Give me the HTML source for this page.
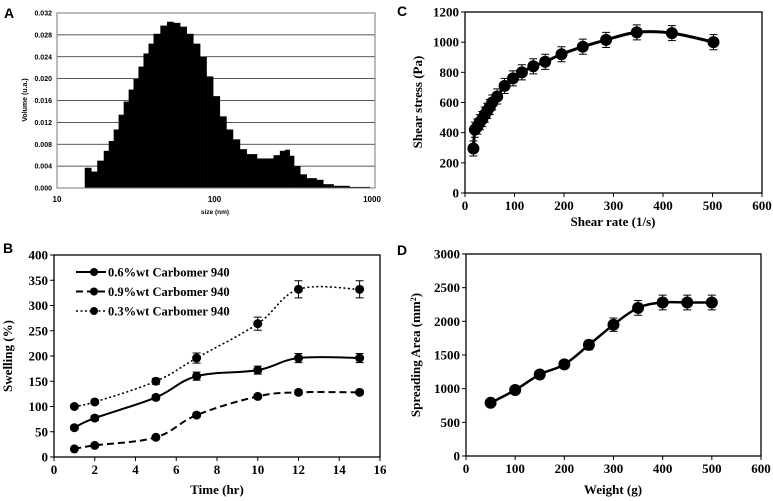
<!DOCTYPE html>
<html><head><meta charset="utf-8"><style>
body{margin:0;background:#fff}
svg{display:block}
.s{font-family:"Liberation Sans",sans-serif;font-weight:bold}
.r{font-family:"Liberation Serif",serif;font-weight:bold}
</style></head><body>
<svg id="fig" width="773" height="501" viewBox="0 0 773 501" xmlns="http://www.w3.org/2000/svg"></svg>
<script>
// Panel A data (particle size distribution)
const aSizes=[15,16.5,18,19.8,21.3,22.9,24.6,26.5,28.5,30.6,32.9,35.4,38.1,41,45.3,49.9,54.9,60.5,66.6,73.3,81,89,98,108,119,131,145,160,186,215,237,260,280,300,320,350,385,445,490,570,720,970];
const aValues=[0.0037,0.003,0.005,0.0068,0.0086,0.0107,0.0134,0.0158,0.018,0.020,0.0222,0.0246,0.0264,0.0282,0.0297,0.0304,0.0302,0.0295,0.0282,0.0264,0.024,0.0204,0.0168,0.0131,0.0107,0.0089,0.0071,0.0062,0.0054,0.0054,0.006,0.0068,0.007,0.0059,0.004,0.0025,0.0018,0.0015,0.0007,0.0004,0.0002,0];
const aYTicks=["0.000","0.004","0.008","0.012","0.016","0.020","0.024","0.028","0.032"];
const aXTicks=["10","100","1000"];
// Panel B data (swelling)
const bTime=[1,2,5,7,10,12,15];
const b06=[58,77,118,160,172,196,196];
const b09=[16,23,39,83,120,128,128];
const b03=[100,109,150,196,264,332,332];
const b06Err=[4,5,5,8,8,9,9];
const b09Err=[3,3,3,4,4,4,4];
const b03Err=[4,4,6,10,13,17,17];
const bXTicks=["0","2","4","6","8","10","12","14","16"];
const bYTicks=["0","50","100","150","200","250","300","350","400"];
// Panel C data (shear)
const cRate=[17,20,25,30,35,40,45,50,55,65,80,97,115,138,162,195,238,285,347,418,502];
const cStress=[295,420,440,470,490,520,545,570,600,640,710,760,800,840,870,920,970,1015,1065,1060,1000];
const cErr=[50,50,50,50,50,50,50,50,50,50,50,50,50,50,50,50,50,50,50,50,50];
const cXTicks=["0","100","200","300","400","500","600"];
const cYTicks=["0","200","400","600","800","1000","1200"];
// Panel D data (spreading)
const dWeight=[50,100,150,200,250,300,350,400,450,500];
const dArea=[790,980,1210,1360,1650,1950,2200,2280,2280,2280];
const dErr=[0,30,40,50,70,100,110,110,110,110];
const dXTicks=["0","100","200","300","400","500","600"];
const dYTicks=["0","500","1000","1500","2000","2500","3000"];

const svg=document.getElementById('fig');
const NS="http://www.w3.org/2000/svg";
function mk(tag,attrs,name,parent){const e=document.createElementNS(NS,tag);for(const k in attrs)e.setAttribute(k,attrs[k]);


(parent||svg).appendChild(e);return e;}
function txt(x,y,s,cls,size,anchor,name,rot){const t=mk('text',{x:x,y:y,'class':cls,'font-size':size,'text-anchor':anchor||'middle'},name);if(rot)t.setAttribute('transform','rotate(-90 '+x+' '+y+')');t.textContent=s;return t;}
function smooth(pts){let d='M'+pts[0][0]+','+pts[0][1];for(let i=0;i<pts.length-1;i++){const p0=pts[Math.max(0,i-1)],p1=pts[i],p2=pts[i+1],p3=pts[Math.min(pts.length-1,i+2)];const t=0.18;
d+=' C'+(p1[0]+(p2[0]-p0[0])*t)+','+(p1[1]+(p2[1]-p0[1])*t)+' '+(p2[0]-(p3[0]-p1[0])*t)+','+(p2[1]-(p3[1]-p1[1])*t)+' '+p2[0]+','+p2[1];}return d;}

// ---- Panel A ----
const ax=v=>57+(Math.log10(v)-1)*157.5, ay=v=>188-v*(175/0.032);
txt(4,18,'A','s',14,'start','panel-a-label');
aYTicks.forEach((t,i)=>{const v=+t;const y=ay(v);if(i>0)mk('line',{x1:57,x2:375,y1:y,y2:y,stroke:'#222','stroke-width':0.8},'a-gridline');txt(52,y+2.5,t,'s',7,'end','a-y-tick');});
for(let i=0;i<aSizes.length-1;i++){const x0=ax(aSizes[i]),x1=ax(aSizes[i+1]);mk('rect',{x:x0,y:ay(aValues[i]),width:x1-x0+0.3,height:188-ay(aValues[i]),fill:'#000'},'a-bar');}
mk('rect',{x:57,y:13,width:318,height:175,fill:'none',stroke:'#777','stroke-width':1},'a-plot-frame');
aXTicks.forEach(t=>txt(ax(+t),202,t,'s',8,'middle','a-x-tick'));
txt(215,214,'size (nm)','s',6.5,'middle','a-x-axis-title');
txt(27,100,'Volume (u.a.)','s',7,'middle','a-y-axis-title',true);

// generic line panel
function panel(o){
const X=v=>o.x0+(v-o.xmin)/(o.xmax-o.xmin)*(o.x1-o.x0), Y=v=>o.y0-(v-o.ymin)/(o.ymax-o.ymin)*(o.y0-o.y1);
mk('rect',{x:o.x0,y:o.y1,width:o.x1-o.x0,height:o.y0-o.y1,fill:'none',stroke:'#000','stroke-width':1.3},o.p+'-plot-frame');
o.xt.forEach(t=>{const x=X(+t);mk('line',{x1:x,x2:x,y1:o.y0,y2:o.y0+4,stroke:'#000','stroke-width':1},o.p+'-x-tickmark');txt(x,o.y0+17,t,'r',13,'middle',o.p+'-x-tick');});
o.yt.forEach(t=>{const y=Y(+t);mk('line',{x1:o.x0-4,x2:o.x0,y1:y,y2:y,stroke:'#000','stroke-width':1},o.p+'-y-tickmark');txt(o.x0-6,y+4.5,t,'r',13,'end',o.p+'-y-tick');});
o.series.forEach(s=>{const pts=s.x.map((v,i)=>[X(v),Y(s.y[i])]);
mk('path',{d:smooth(pts),fill:'none',stroke:'#000','stroke-width':s.w||2,'stroke-dasharray':s.dash||'none'},o.p+'-line-'+s.n);
pts.forEach((p,i)=>{const e=s.e[i];if(e>0){const yt=Y(s.y[i]+e),yb=Y(s.y[i]-e);mk('path',{d:'M'+p[0]+','+yt+'V'+yb+'M'+(p[0]-4)+','+yt+'h8M'+(p[0]-4)+','+yb+'h8',stroke:'#000','stroke-width':1,fill:'none'},o.p+'-error-bar');}
mk('circle',{cx:p[0],cy:p[1],r:s.r||5,fill:'#000'},o.p+'-point-'+s.n);});});
return {X,Y};}

// ---- Panel B ----
txt(3,253,'B','s',14,'start','panel-b-label');
panel({p:'b',x0:54,x1:380,y0:457,y1:255,xmin:0,xmax:16,ymin:0,ymax:400,xt:bXTicks,yt:bYTicks,series:[
{n:'0-6',x:bTime,y:b06,e:b06Err,r:4.5},{n:'0-9',x:bTime,y:b09,e:b09Err,dash:'7,4',r:4.5},{n:'0-3',x:bTime,y:b03,e:b03Err,dash:'2,2.5',w:1.6,r:4.5}]});
[['0.6%wt Carbomer 940','none',2],['0.9%wt Carbomer 940','7,4',2],['0.3%wt Carbomer 940','2,2.5',1.6]].forEach((l,i)=>{const y=272+i*19.5;
mk('line',{x1:76,x2:106,y1:y,y2:y,stroke:'#000','stroke-width':l[2],'stroke-dasharray':l[1]},'legend-line');
mk('circle',{cx:94,cy:y,r:4,fill:'#000'},'legend-marker');
txt(108,y+4.5,l[0],'r',12.5,'start','legend-entry');});
txt(217,494,'Time (hr)','r',13,'middle','b-x-axis-title');
txt(12,356,'Swelling (%)','r',13,'middle','b-y-axis-title',true);

// ---- Panel C ----
txt(397,16,'C','s',14,'start','panel-c-label');
panel({p:'c',x0:465,x1:762,y0:193,y1:12,xmin:0,xmax:600,ymin:0,ymax:1200,xt:cXTicks,yt:cYTicks,series:[{n:'shear',x:cRate,y:cStress,e:cErr,w:3,r:6}]});
txt(613,226,'Shear rate (1/s)','r',13,'middle','c-x-axis-title');
txt(422,102,'Shear stress (Pa)','r',13,'middle','c-y-axis-title',true);

// ---- Panel D ----
txt(397,255,'D','s',14,'start','panel-d-label');
panel({p:'d',x0:466,x1:761,y0:456,y1:254,xmin:0,xmax:600,ymin:0,ymax:3000,xt:dXTicks,yt:dYTicks,series:[{n:'area',x:dWeight,y:dArea,e:dErr,w:2.5,r:6}]});
txt(613,494,'Weight (g)','r',13,'middle','d-x-axis-title');
const dy=txt(420,355,'Spreading Area (mm','r',13,'middle','d-y-axis-title',true);
const sup=document.createElementNS(NS,'tspan');sup.setAttribute('font-size','8');sup.setAttribute('dy','-4');sup.textContent='2';


dy.appendChild(sup);
const cl=document.createElementNS(NS,'tspan');cl.setAttribute('dy','4');cl.textContent=')';


dy.appendChild(cl);
</script>
</body></html>
